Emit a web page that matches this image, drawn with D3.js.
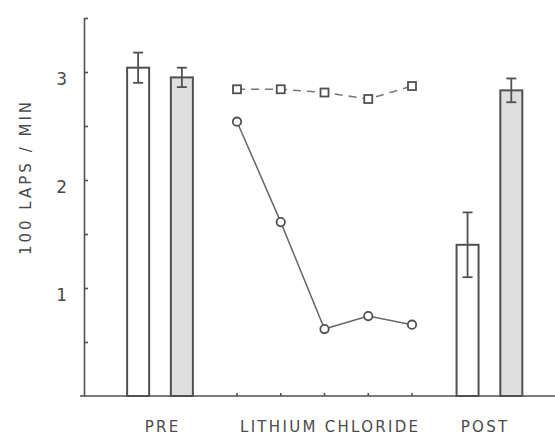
<!DOCTYPE html>
<html>
<head>
<meta charset="utf-8">
<script src="https://cdn.jsdelivr.net/npm/d3@7"></script>
<style>
  body { margin: 0; background: #fff; }
  text { font-family: "DejaVu Sans", sans-serif; fill: #4a4a4a; }
</style>
</head>
<body>
<svg width="555" height="437"></svg>
<script>
// bars: [saline-white, treated-gray]
const preMeans = [3.04, 2.95];
const preErrs = [0.14, 0.09];
const postMeans = [1.40, 2.83];
const postErrs = [0.30, 0.11];

// lithium chloride days
const liDays = [1, 2, 3, 4, 5];
const liControl = [2.84, 2.84, 2.81, 2.75, 2.87];   // dashed squares
const liTreated = [2.54, 1.61, 0.62, 0.74, 0.66];   // solid circles

const yTicks = [1, 2, 3];
const yMinor = [0.5, 1.5, 2.5, 3.5];
const groupLabels = ["PRE", "LITHIUM CHLORIDE", "POST"];

const svg = d3.select("svg");
const ink = "#505050";

const y = d3.scaleLinear().domain([0, 3.5]).range([396, 18]);
const x = d3.scaleLinear().domain([1, 5]).range([237, 412]);

const barW = 22;
const preSlots = [-1.26, -0.26];
const postSlots = [6.27, 7.27];
const fills = ["#fff", "#dedede"];

// y axis
svg.append("g")
  .attr("transform", "translate(84,0)")
  .call(d3.axisLeft(y).tickValues(yMinor).tickSizeInner(-4).tickSizeOuter(0).tickFormat(""))
  .call(g => g.selectAll("line,path").attr("stroke", ink).attr("stroke-width", 1.6));

const yAx = svg.append("g")
  .attr("transform", "translate(84,0)")
  .call(d3.axisLeft(y).tickValues(yTicks).tickSizeInner(-4).tickSizeOuter(0).tickPadding(17).tickFormat(d3.format("d")))
  .call(g => g.select(".domain").remove())
  .call(g => g.selectAll("line").attr("stroke", ink).attr("stroke-width", 1.6));
yAx.selectAll("text")
  .attr("dy", "0.95em")
  .attr("y", -4)
  .style("font-size", "17px")
  .style("font-family", "DejaVu Sans, sans-serif")
  .attr("fill", "#4a4a4a");

// baseline
svg.append("line")
  .attr("x1", 80).attr("x2", 555)
  .attr("y1", y(0)).attr("y2", y(0))
  .attr("stroke", ink).attr("stroke-width", 1.6);

// small day ticks on baseline
svg.selectAll(".dtick").data(liDays).enter().append("line")
  .attr("x1", d => x(d)).attr("x2", d => x(d))
  .attr("y1", y(0)).attr("y2", y(0) - 3)
  .attr("stroke", ink).attr("stroke-width", 1.6);

// bars
function drawBars(means, errs, slots) {
  means.forEach((m, i) => {
    const cx = x(slots[i]);
    svg.append("rect")
      .attr("x", cx - barW / 2).attr("width", barW)
      .attr("y", y(m)).attr("height", y(0) - y(m))
      .attr("fill", fills[i]).attr("stroke", ink).attr("stroke-width", 2);
    const e = errs[i];
    const g = svg.append("g").attr("stroke", ink).attr("stroke-width", 1.8);
    g.append("line").attr("x1", cx).attr("x2", cx).attr("y1", y(m + e)).attr("y2", y(m - e));
    g.append("line").attr("x1", cx - 5).attr("x2", cx + 5).attr("y1", y(m + e)).attr("y2", y(m + e));
    g.append("line").attr("x1", cx - 5).attr("x2", cx + 5).attr("y1", y(m - e)).attr("y2", y(m - e));
  });
}
drawBars(preMeans, preErrs, preSlots);
drawBars(postMeans, postErrs, postSlots);

// lines
const line = d3.line().x((d, i) => x(liDays[i])).y(d => y(d));

svg.append("path").datum(liControl)
  .attr("d", line).attr("fill", "none")
  .attr("stroke", "#777").attr("stroke-width", 1.6)
  .attr("stroke-dasharray", "8,6");

svg.append("path").datum(liTreated)
  .attr("d", line).attr("fill", "none")
  .attr("stroke", "#666").attr("stroke-width", 1.5);

svg.selectAll(".sq").data(liControl).enter().append("rect")
  .attr("x", (d, i) => x(liDays[i]) - 4).attr("y", d => y(d) - 4)
  .attr("width", 8).attr("height", 8)
  .attr("fill", "#fff").attr("stroke", ink).attr("stroke-width", 1.8);

svg.selectAll(".ci").data(liTreated).enter().append("circle")
  .attr("cx", (d, i) => x(liDays[i])).attr("cy", d => y(d))
  .attr("r", 4.2)
  .attr("fill", "#fff").attr("stroke", ink).attr("stroke-width", 1.8);

// group labels
const labelX = [x(-0.7), x(3.13), x(6.67)];
svg.selectAll(".gl").data(groupLabels).enter().append("text")
  .attr("x", (d, i) => labelX[i]).attr("y", 432)
  .attr("text-anchor", "middle")
  .style("font-size", "15px")
  .style("letter-spacing", "2.3px")
  .text(d => d);

// y title
svg.append("text")
  .attr("transform", "translate(31,177) rotate(-90)")
  .attr("text-anchor", "middle")
  .style("font-size", "15px")
  .style("letter-spacing", "3px")
  .text("100 LAPS / MIN");
</script>
</body>
</html>
